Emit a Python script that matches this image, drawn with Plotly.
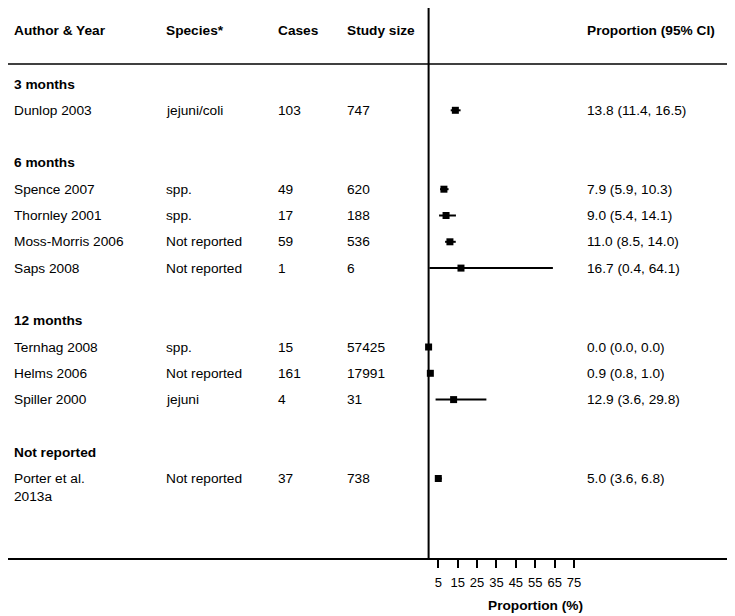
import plotly.graph_objects as go

# ---------------- data ----------------
groups = ["3 months", "6 months", "6 months", "6 months", "6 months",
          "12 months", "12 months", "12 months", "Not reported"]
authors = ["Dunlop 2003", "Spence 2007", "Thornley 2001", "Moss-Morris 2006",
           "Saps 2008", "Ternhag 2008", "Helms 2006", "Spiller 2000",
           "Porter et al.|2013a"]
species = ["jejuni/coli", "spp.", "spp.", "Not reported", "Not reported",
           "spp.", "Not reported", "jejuni", "Not reported"]
cases = [103, 49, 17, 59, 1, 15, 161, 4, 37]
study_size = [747, 620, 188, 536, 6, 57425, 17991, 31, 738]
proportion = [13.8, 7.9, 9.0, 11.0, 16.7, 0.0, 0.9, 12.9, 5.0]
ci_low = [11.4, 5.9, 5.4, 8.5, 0.4, 0.0, 0.8, 3.6, 3.6]
ci_high = [16.5, 10.3, 14.1, 14.0, 64.1, 0.0, 1.0, 29.8, 6.8]
tick_values = [5, 15, 25, 35, 45, 55, 65, 75]
headers = ["Author & Year", "Species*", "Cases", "Study size", "Proportion (95% CI)"]

# ---------------- layout helpers ----------------
OFF = 8             # page body margin
W, H = 735 - OFF, 616 - OFF
ROW = 26.3          # px per row
FIRST = 84 - OFF    # px of first row centre
AXIS_PX = 558 - OFF # px of x axis line
PX_PER_UNIT = 1.939
ZERO_PX = 428.6 - OFF
FONT = "Liberation Sans, Arial, sans-serif"
FS = 13.7

xmin = -ZERO_PX / PX_PER_UNIT
xmax = (W - ZERO_PX) / PX_PER_UNIT
y_top = -FIRST / ROW
y_bot = (AXIS_PX - FIRST) / ROW

def px_row(px):
    return (px - OFF - FIRST) / ROW

# assign row indices
study_rows, group_rows = [], []
r = 0
prev = None
for g in groups:
    if g != prev:
        if prev is not None:
            r += 1
        group_rows.append((g, r))
        r += 1
        prev = g
    study_rows.append(r)
    r += 1

col_x = [12, 164, 276, 345, 585]

fig = go.Figure()
fig.add_trace(go.Scatter(
    x=proportion, y=study_rows, mode="markers",
    marker=dict(symbol="square", size=7, color="black"),
    error_x=dict(type="data", symmetric=False,
                 array=[h - p for h, p in zip(ci_high, proportion)],
                 arrayminus=[p - l for p, l in zip(proportion, ci_low)],
                 color="black", thickness=2, width=0),
    hoverinfo="skip", showlegend=False))

ann = []
def txt(x, y, s, bold=False, size=FS, xanchor="left"):
    ann.append(dict(x=(x - OFF) / W, xref="paper", y=y, yref="y",
                    text=(f"<b>{s}</b>" if bold else s),
                    showarrow=False, xanchor=xanchor, yanchor="middle",
                    font=dict(family=FONT, size=size, color="black")))

for i, h in enumerate(headers):
    txt(col_x[i], px_row(30), h, bold=True)
for g, gr in group_rows:
    txt(col_x[0], gr, g, bold=True)
for i, rr in enumerate(study_rows):
    parts = authors[i].split("|")
    txt(col_x[0], rr, parts[0])
    for k, extra in enumerate(parts[1:]):
        txt(col_x[0], rr + (k + 1) * 18 / ROW, extra)
    txt(col_x[1], rr, species[i])
    txt(col_x[2], rr, str(cases[i]))
    txt(col_x[3], rr, str(study_size[i]))
    txt(col_x[4], rr, f"{proportion[i]:.1f} ({ci_low[i]:.1f}, {ci_high[i]:.1f})")

ann.append(dict(x=(535 - OFF) / W, xref="paper", y=-(605 - OFF - AXIS_PX) / AXIS_PX, yref="paper",
                text="<b>Proportion (%)</b>", showarrow=False, xanchor="center",
                yanchor="middle", font=dict(family=FONT, size=FS, color="black")))

shapes = [
    dict(type="line", xref="paper", x0=0, x1=1, yref="y", y0=px_row(64), y1=px_row(64),
         line=dict(color="black", width=1.5)),
    dict(type="line", xref="x", x0=0, x1=0, yref="paper", y0=0, y1=1,
         line=dict(color="black", width=2)),
]

fig.update_layout(
    width=W, height=H, margin=dict(l=0, r=0, t=0, b=H - AXIS_PX),
    plot_bgcolor="white", paper_bgcolor="white",
    annotations=ann, shapes=shapes,
    xaxis=dict(range=[xmin, xmax], tickvals=tick_values, ticks="outside", ticklen=8,
               tickwidth=1.5, tickcolor="black", showline=True, linecolor="black",
               linewidth=1.5, showgrid=False, zeroline=False, ticklabelstandoff=4,
               tickfont=dict(family=FONT, size=13, color="black")),
    yaxis=dict(range=[y_bot, y_top], visible=False, showgrid=False, zeroline=False),
)
fig.write_html("out.html")
